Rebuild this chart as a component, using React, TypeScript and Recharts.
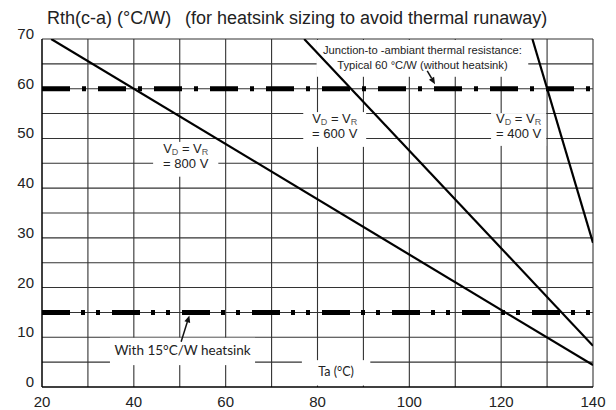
import { LineChart, Line, XAxis, YAxis, CartesianGrid, ReferenceLine, ReferenceArea } from 'recharts';

const FONT = '"Liberation Sans", Arial, sans-serif';
const SOFT = 'Lato, "Open Sans", sans-serif';

// axis ticks
const xTicks = [20, 40, 60, 80, 100, 120, 140];
const yTicks = [0, 10, 20, 30, 40, 50, 60, 70];
// grid every 10 °C / every 5 °C/W
const gridTa = [30, 40, 50, 60, 70, 80, 90, 100, 110, 120, 130, 140];
const gridRth = [5, 10, 15, 20, 25, 30, 35, 40, 45, 50, 55, 60, 65, 70];

// Rth(c-a) limit curves
const ta800 = [22, 140];
const rth800 = [70, 4.4];
const ta600 = [77.1, 140];
const rth600 = [70, 8.3];
const ta400 = [126.8, 140];
const rth400 = [70, 29];

// typical reference levels
const noHeatsink = 60;
const withHeatsink = 15;

const toPoints = (ta: number[], rth: number[]) => ta.map((t, i) => ({ ta: t, rth: rth[i] }));

const XTick = ({ x, y, payload }: any) => (
  <text x={x} y={y + 8} textAnchor="middle" dominantBaseline="middle" fontSize={15} fill="#222" fontFamily={FONT}>
    {payload.value}
  </text>
);

const YTick = ({ x, y, payload }: any) => (
  <text x={x} y={y - 4} textAnchor="end" dominantBaseline="middle" fontSize={15} fill="#222" fontFamily={FONT}>
    {payload.value}
  </text>
);

// white box with the "VD = VR / = xxx V" label
const vLabel = (volts: string) => (p: any) => {
  const cx = p.x + p.width / 2;
  const cy = p.y + p.height / 2;
  return (
    <g>
      <rect x={p.x} y={p.y} width={p.width} height={p.height} fill="#fff" />
      <text x={cx} y={cy - 6} textAnchor="middle" fontSize={13} fill="#222" fontFamily={FONT}>
        V<tspan fontSize={9} dy={2} fill="#555">D</tspan>
        <tspan dy={-2}> = V</tspan>
        <tspan fontSize={9} dy={2} fill="#555">R</tspan>
      </text>
      <text x={cx} y={cy + 9} textAnchor="middle" fontSize={13} fill="#222" fontFamily={FONT}>
        = {volts} V
      </text>
    </g>
  );
};

const textBox = (lines: string[], size: number, family: string, gap: number) => (p: any) => {
  const cx = p.x + p.width / 2;
  const cy = p.y + p.height / 2;
  const first = cy - ((lines.length - 1) * gap) / 2;
  return (
    <g>
      <rect x={p.x} y={p.y} width={p.width} height={p.height} fill="#fff" />
      {lines.map((l, i) => (
        <text key={i} x={cx} y={first + i * gap} textAnchor="middle" dominantBaseline="middle" fontSize={size} fill="#222" fontFamily={family}>
          {l}
        </text>
      ))}
    </g>
  );
};

const arrow = (p: any) => {
  const { x1, y1, x2, y2 } = p;
  const a = Math.atan2(y2 - y1, x2 - x1);
  const L = 7, W = 3;
  const bx = x2 - L * Math.cos(a), by = y2 - L * Math.sin(a);
  const pts = `${x2},${y2} ${bx - W * Math.sin(a)},${by + W * Math.cos(a)} ${bx + W * Math.sin(a)},${by - W * Math.cos(a)}`;
  return (
    <g>
      <line x1={x1} y1={y1} x2={bx} y2={by} stroke="#111" strokeWidth={1.5} />
      <polygon points={pts} fill="#111" />
    </g>
  );
};

export default function App() {
  return (
    <div style={{ position: 'relative', width: 608, height: 402 }}>
      <div style={{ position: 'absolute', left: 39, top: 0, fontFamily: FONT, fontSize: 18, lineHeight: '20px', color: '#222', whiteSpace: 'pre' }}>
        Rth(c-a) (°C/W)
      </div>
      <div style={{ position: 'absolute', left: 177, top: 0, fontFamily: FONT, fontSize: 18, lineHeight: '20px', color: '#222', whiteSpace: 'pre' }}>
        (for heatsink sizing to avoid thermal runaway)
      </div>
      <LineChart width={608} height={402} margin={{ top: 31, right: 23, bottom: 0, left: 0 }}>
        <CartesianGrid stroke="#333" strokeWidth={1.1} verticalValues={gridTa} horizontalValues={gridRth} />
        <XAxis
          type="number"
          dataKey="ta"
          domain={[20, 140]}
          ticks={xTicks}
          allowDataOverflow
          height={23}
          tickLine={false}
          axisLine={{ stroke: '#000', strokeWidth: 1.5 }}
          tick={<XTick />}
        />
        <YAxis
          type="number"
          dataKey="rth"
          domain={[0, 70]}
          ticks={yTicks}
          allowDataOverflow
          width={34}
          tickLine={false}
          axisLine={{ stroke: '#000', strokeWidth: 1.5 }}
          tick={<YTick />}
        />

        <ReferenceArea x1={79.8} x2={125.9} y1={62.4} y2={69.8} shape={textBox(['Junction-to -ambiant  thermal resistance:', 'Typical 60 °C/W (without heatsink)'], 11.2, FONT, 15)} />
        <ReferenceArea x1={44.2} x2={58.4} y1={42.3} y2={49.3} shape={vLabel('800')} />
        <ReferenceArea x1={76.9} x2={90.6} y1={48.3} y2={55.3} shape={vLabel('600')} />
        <ReferenceArea x1={117.8} x2={129.8} y1={48.5} y2={55.1} shape={vLabel('400')} />
        <ReferenceArea x1={34.8} x2={66.4} y1={4.4} y2={9.9} shape={textBox(['With 15°C/W heatsink'], 13.5, SOFT, 0)} />
        <ReferenceArea x1={76.6} x2={91.5} y1={0.3} y2={5.4} shape={textBox(['Ta (°C)'], 12.5, SOFT, 0)} />

        <ReferenceLine y={noHeatsink} stroke="#000" strokeWidth={5} strokeDasharray="28 12 4 12" />
        <ReferenceLine y={withHeatsink} stroke="#000" strokeWidth={5} strokeDasharray="28 11 4 11 4 12" />

        <Line data={toPoints(ta800, rth800)} dataKey="rth" stroke="#000" strokeWidth={2.2} dot={false} isAnimationActive={false} />
        <Line data={toPoints(ta600, rth600)} dataKey="rth" stroke="#000" strokeWidth={2.2} dot={false} isAnimationActive={false} />
        <Line data={toPoints(ta400, rth400)} dataKey="rth" stroke="#000" strokeWidth={2.2} dot={false} isAnimationActive={false} />

        <ReferenceLine segment={[{ x: 50.3, y: 9.1 }, { x: 52.1, y: 14.4 }]} shape={arrow} />
        <ReferenceLine segment={[{ x: 103.9, y: 63.6 }, { x: 105.6, y: 60.9 }]} shape={arrow} />
      </LineChart>
    </div>
  );
}
